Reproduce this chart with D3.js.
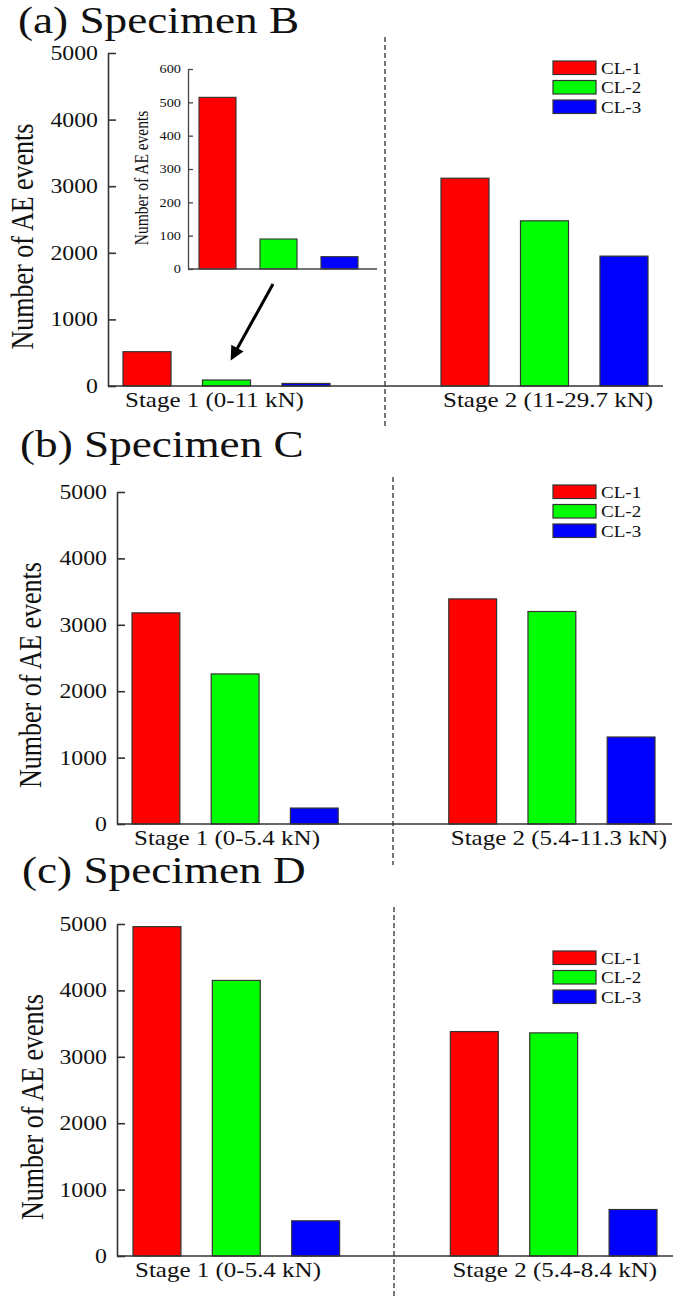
<!DOCTYPE html>
<html>
<head>
<meta charset="utf-8">
<script src="https://cdn.jsdelivr.net/npm/d3@7"></script>
<style>
html,body{margin:0;padding:0;background:#fff;}
svg{display:block;}
text{font-family:"Liberation Serif","Times New Roman",serif;fill:#111;}
</style>
</head>
<body>
<svg id="chart" width="685" height="1304"></svg>
<script>
// ---------- data ----------
const series = ["CL-1", "CL-2", "CL-3"];
const seriesColors = ["#ff0000", "#00ff00", "#0000ff"];
const yTickValues = [0, 1000, 2000, 3000, 4000, 5000];
const insetTickValues = [0, 100, 200, 300, 400, 500, 600];
const yLabel = "Number of AE events";

const titleB = "(a) Specimen B";
const stagesB = ["Stage 1 (0-11 kN)", "Stage 2 (11-29.7 kN)"];
const valuesB = [[515, 90, 38], [3120, 2480, 1950]];
const insetValuesB = [515, 90, 37];

const titleC = "(b) Specimen C";
const stagesC = ["Stage 1 (0-5.4 kN)", "Stage 2 (5.4-11.3 kN)"];
const valuesC = [[3180, 2260, 240], [3390, 3200, 1310]];

const titleD = "(c) Specimen D";
const stagesD = ["Stage 1 (0-5.4 kN)", "Stage 2 (5.4-8.4 kN)"];
const valuesD = [[4960, 4150, 530], [3380, 3360, 700]];

// ---------- layout ----------
const SX = 1.19; // horizontal stretch of glyphs in the reference
const svg = d3.select("#chart");
const AX = "#333";
const fmt = d3.format("d");

function stretchedText(g, x, y, str, size, anchor, rotate) {
  return g.append("text")
    .attr("transform", `translate(${x},${y}) scale(${SX},1)` + (rotate ? " rotate(-90)" : ""))
    .attr("text-anchor", anchor || "start")
    .attr("font-size", size)
    .text(str);
}

function panel(cfg) {
  const g = svg.append("g");
  // title
  stretchedText(g, cfg.titleX, cfg.titleY, cfg.title, 38, "start");

  const y = d3.scaleLinear().domain([0, 5000]).range([cfg.y0, cfg.yTop]);
  const xStage = d3.scaleBand().domain(cfg.stages).range(cfg.barRange).paddingInner(0.349).paddingOuter(0);
  const xSeries = d3.scaleBand().domain(series).range([0, xStage.bandwidth()]).paddingInner(0.396).paddingOuter(0);
  const color = d3.scaleOrdinal().domain(series).range(seriesColors);

  // dashed separator
  g.append("line")
    .attr("x1", cfg.dashX).attr("x2", cfg.dashX)
    .attr("y1", cfg.dashY[0]).attr("y2", cfg.dashY[1])
    .attr("stroke", "#555").attr("stroke-width", 1.6)
    .attr("stroke-dasharray", "5,3");

  // bars
  cfg.stages.forEach((st, si) => {
    g.selectAll(null).data(cfg.values[si]).enter().append("rect")
      .attr("x", (d, i) => xStage(st) + xSeries(series[i]))
      .attr("width", xSeries.bandwidth())
      .attr("y", d => y(d))
      .attr("height", d => y(0) - y(d))
      .attr("fill", (d, i) => color(series[i]))
      .attr("stroke", "#333").attr("stroke-width", 1.2);
    // stage label
    stretchedText(g, xStage(st) + 2, cfg.stageY, st, 21, "start");
  });

  // y axis
  const yAxis = d3.axisLeft(y).tickValues(yTickValues).tickFormat(fmt)
    .tickSize(-8).tickSizeOuter(0).tickPadding(10);
  const ya = g.append("g").attr("transform", `translate(${cfg.axisX},0)`).call(yAxis);
  ya.select(".domain").attr("stroke", AX).attr("stroke-width", 1.6);
  ya.selectAll(".tick line").attr("stroke", AX).attr("stroke-width", 1.6);
  ya.selectAll(".tick text")
    .attr("font-family", '"Liberation Serif","Times New Roman",serif')
    .attr("font-size", 20).attr("fill", "#111")
    .attr("x", -10 / SX)
    .attr("transform", `scale(${SX},1)`);

  // x axis line
  g.append("line")
    .attr("x1", cfg.axisX).attr("x2", cfg.xEnd)
    .attr("y1", y(0)).attr("y2", y(0))
    .attr("stroke", AX).attr("stroke-width", 1.6);

  // y label
  stretchedText(g, cfg.yLabelX, (cfg.y0 + cfg.yTop) / 2 + cfg.yLabelDy, yLabel, 26, "middle", true);

  // legend
  const lg = g.append("g").attr("transform", `translate(553,${cfg.legendY})`);
  series.forEach((s, i) => {
    lg.append("rect").attr("x", 0).attr("y", i * 19.5).attr("width", 43).attr("height", 13.5)
      .attr("fill", color(s)).attr("stroke", "#333").attr("stroke-width", 1.2);
    stretchedText(lg, 48, i * 19.5 + 12.5, s, 16, "start");
  });
  return g;
}

panel({title: titleB, titleX: 18, titleY: 33, stages: stagesB, values: valuesB,
  y0: 386, yTop: 53, axisX: 108, xEnd: 663, barRange: [123, 648],
  dashX: 385, dashY: [37, 427], stageY: 407, legendY: 61, yLabelX: 33, yLabelDy: 17});
panel({title: titleC, titleX: 20, titleY: 457, stages: stagesC, values: valuesC,
  y0: 824, yTop: 492, axisX: 117, xEnd: 672, barRange: [132, 655],
  dashX: 393, dashY: [477, 865], stageY: 845, legendY: 485, yLabelX: 41, yLabelDy: 17});
panel({title: titleD, titleX: 22, titleY: 883, stages: stagesD, values: valuesD,
  y0: 1256, yTop: 924, axisX: 117, xEnd: 673, barRange: [133, 657],
  dashX: 394, dashY: [907, 1297], stageY: 1277, legendY: 951, yLabelX: 43, yLabelDy: 17});

// ---------- inset (Specimen B, stage 1) ----------
(function inset() {
  const g = svg.append("g");
  const y = d3.scaleLinear().domain([0, 600]).range([269, 69]);
  const x = d3.scaleBand().domain(series).range([199, 358]).paddingInner(0.393).paddingOuter(0);
  g.selectAll(null).data(insetValuesB).enter().append("rect")
    .attr("x", (d, i) => x(series[i]))
    .attr("width", x.bandwidth())
    .attr("y", d => y(d))
    .attr("height", d => y(0) - y(d))
    .attr("fill", (d, i) => seriesColors[i])
    .attr("stroke", "#333").attr("stroke-width", 1.1);
  const ax = d3.axisLeft(y).tickValues(insetTickValues).tickFormat(fmt)
    .tickSize(-5).tickSizeOuter(0).tickPadding(7);
  const ya = g.append("g").attr("transform", "translate(188,0)").call(ax);
  ya.select(".domain").attr("stroke", "#444").attr("stroke-width", 1.3);
  ya.selectAll(".tick line").attr("stroke", "#444").attr("stroke-width", 1.3);
  ya.selectAll(".tick text")
    .attr("font-family", '"Liberation Serif","Times New Roman",serif')
    .attr("font-size", 12).attr("fill", "#111")
    .attr("x", -7 / SX)
    .attr("transform", `scale(${SX},1)`);
  g.append("line").attr("x1", 188).attr("x2", 377).attr("y1", y(0)).attr("y2", y(0))
    .attr("stroke", "#444").attr("stroke-width", 1.3);
  stretchedText(g, 148, 178, yLabel, 15.5, "middle", true);

  // arrow
  const defs = svg.append("defs");
  defs.append("marker").attr("id", "ah").attr("markerUnits", "userSpaceOnUse")
    .attr("viewBox", "0 0 10 10").attr("refX", 8).attr("refY", 5)
    .attr("markerWidth", 16).attr("markerHeight", 14).attr("orient", "auto")
    .append("path").attr("d", "M0,0 L10,5 L0,10 Z").attr("fill", "#000");
  g.append("line").attr("x1", 273).attr("y1", 284).attr("x2", 232).attr("y2", 358)
    .attr("stroke", "#000").attr("stroke-width", 3).attr("marker-end", "url(#ah)");
})();
</script>
</body>
</html>
